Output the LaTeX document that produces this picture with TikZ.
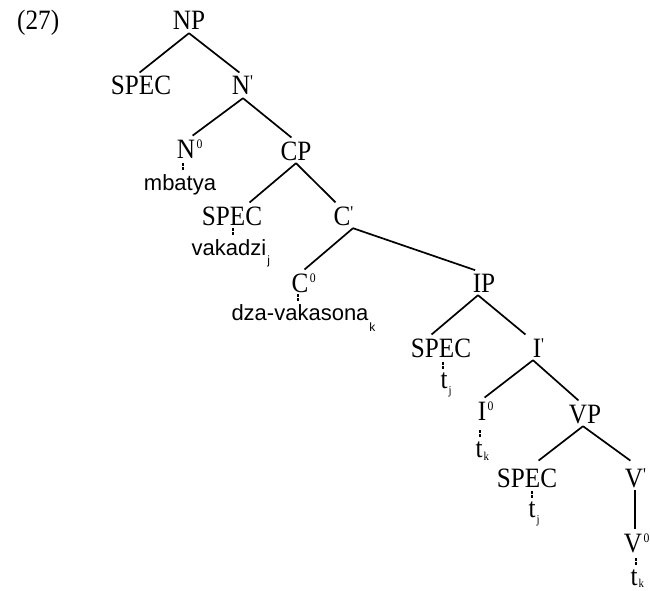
\documentclass[tikz,border=0pt]{standalone}
\usepackage{fontspec}
\setmainfont{Liberation Serif}
\newfontfamily\labfont[FakeStretch=0.9]{Liberation Serif}
\newfontfamily\wordfont{Liberation Sans}
\usetikzlibrary{calc}

% bar-level marks and indices set as overlays, so that nodes keep the width of the head letter
\newcommand\supz{\rlap{\hspace{1.5pt}\raisebox{9.5pt}{\fontsize{13}{13}\selectfont 0}}}
\newcommand\prm{\rlap{\raisebox{7pt}{\fontsize{18}{18}\selectfont\textquotesingle}}}
\newcommand\subsc[2]{\rlap{\hspace{1pt}\raisebox{-#1pt}{\fontsize{12}{12}\selectfont #2}}}

\tikzset{
  lab/.style={font=\labfont\fontsize{28}{30}\selectfont, text height=18pt, text depth=0pt,
              inner xsep=0pt, inner ysep=3pt, anchor=base},
  wrd/.style={font=\wordfont\fontsize{22}{24}\selectfont, text height=16pt, text depth=0pt,
              inner xsep=0pt, inner ysep=3pt, anchor=base},
  trc/.style={lab, text height=16pt, inner ysep=2pt},
  edge/.style={line width=1.7pt, shorten >=2pt},
  tick/.style={line width=1.1pt, dash pattern=on 3pt off 1.5pt},
}

\begin{document}
\begin{tikzpicture}[x=1pt,y=-1pt]
\useasboundingbox (0,0) rectangle (650,591);

\node[lab, anchor=base west] (ex) at (17,30) {(27)};

% category labels
\node[lab] (np)    at (189,30)  {NP};
\node[lab] (spec1) at (141,95)  {SPEC};
\node[lab] (nb)    at (241,95)  {N\prm};
\node[lab] (n0)    at (186,158) {N\supz};
\node[lab] (cp)    at (296,160) {CP};
\node[lab] (spec2) at (232,225) {SPEC};
\node[lab] (cb)    at (342,225) {C\prm};
\node[lab] (c0)    at (300,292) {C\supz};
\node[lab] (ip)    at (484,292) {IP};
\node[lab] (spec3) at (441,357) {SPEC};
\node[lab] (ib)    at (537,357) {I\prm};
\node[lab] (i0)    at (482,420) {I\supz};
\node[lab] (vp)    at (585,423) {VP};
\node[lab] (spec4) at (527,487) {SPEC};
\node[lab] (vb)    at (634,487) {V\prm};
\node[lab] (v0)    at (633,552) {V\supz};

% lexical items and traces
\node[wrd] (mb) at (180,190) {mbatya};
\node[wrd] (vk) at (229,255) {vakadzi\subsc{9}{j}};
\node[wrd] (dz) at (300,320) {dza-vakasona\subsc{11}{k}};
\node[trc] (tj1) at (444,388) {t\subsc{6}{j}};
\node[trc] (tk1) at (479,457) {t\subsc{3}{k}};
\node[trc] (tj2) at (532,517) {t\subsc{6}{j}};
\node[trc] (tk2) at (634,585) {t\subsc{2}{k}};

% branches
\draw[edge] (np.south) -- ($(spec1.north)+(-3,0)$);
\draw[edge] (np.south) -- (nb.north);
\draw[edge] ($(nb.south)+(2,0)$) -- ($(n0.north)+(5,0)$);
\draw[edge] ($(nb.south)+(2,0)$) -- ($(cp.north)+(-3,0)$);
\draw[edge] (cp.south) -- ($(spec2.north)+(16,0)$);
\draw[edge] (cp.south) -- ($(cb.north)+(-5,0)$);
\draw[edge] ($(cb.south)+(11,0)$) -- ($(c0.north)+(3,0)$);
\draw[edge] ($(cb.south)+(11,0)$) -- ($(ip.north)+(-7,0)$);
\draw[edge] ($(ip.south)+(-6,0)$) -- ($(spec3.north)+(-11,0)$);
\draw[edge] ($(ip.south)+(-6,0)$) -- ($(ib.north)+(-10,0)$);
\draw[edge] ($(ib.south)+(-4,0)$) -- ($(i0.north)+(1,0)$);
\draw[edge] ($(ib.south)+(-4,0)$) -- ($(vp.north)+(-5,0)$);
\draw[edge] ($(vp.south)+(-2,0)$) -- ($(spec4.north)+(10,-4)$);
\draw[edge] ($(vp.south)+(-2,0)$) -- ($(vb.north)+(-2,-4)$);
\draw[edge] ($(vb.south)+(1,0)$) -- ($(v0.north)+(2,0)$);

% short dashed links to the terminals
\draw[tick] ($(n0.south |- mb.north)+(-3,-8)$) -- ($(n0.south |- mb.north)+(-3,-1)$);
\draw[tick] ($(spec2.south |- vk.north)+(1,-8)$) -- ($(spec2.south |- vk.north)+(1,-1)$);
\draw[tick] ($(c0.south |- dz.north)+(-2,-7)$) -- ($(c0.south |- dz.north)+(-2,-0)$);
\draw[tick] ($(spec3.south |- tj1.north)+(2,-8)$) -- ($(spec3.south |- tj1.north)+(2,-1)$);
\draw[tick] ($(i0.south |- tk1.north)+(-2,-9)$) -- ($(i0.south |- tk1.north)+(-2,-1)$);
\draw[tick] ($(spec4.south |- tj2.north)+(5,-8)$) -- ($(spec4.south |- tj2.north)+(5,-1)$);
\draw[tick] ($(v0.south |- tk2.north)+(3,-9)$) -- ($(v0.south |- tk2.north)+(3,-1)$);
\end{tikzpicture}
\end{document}
